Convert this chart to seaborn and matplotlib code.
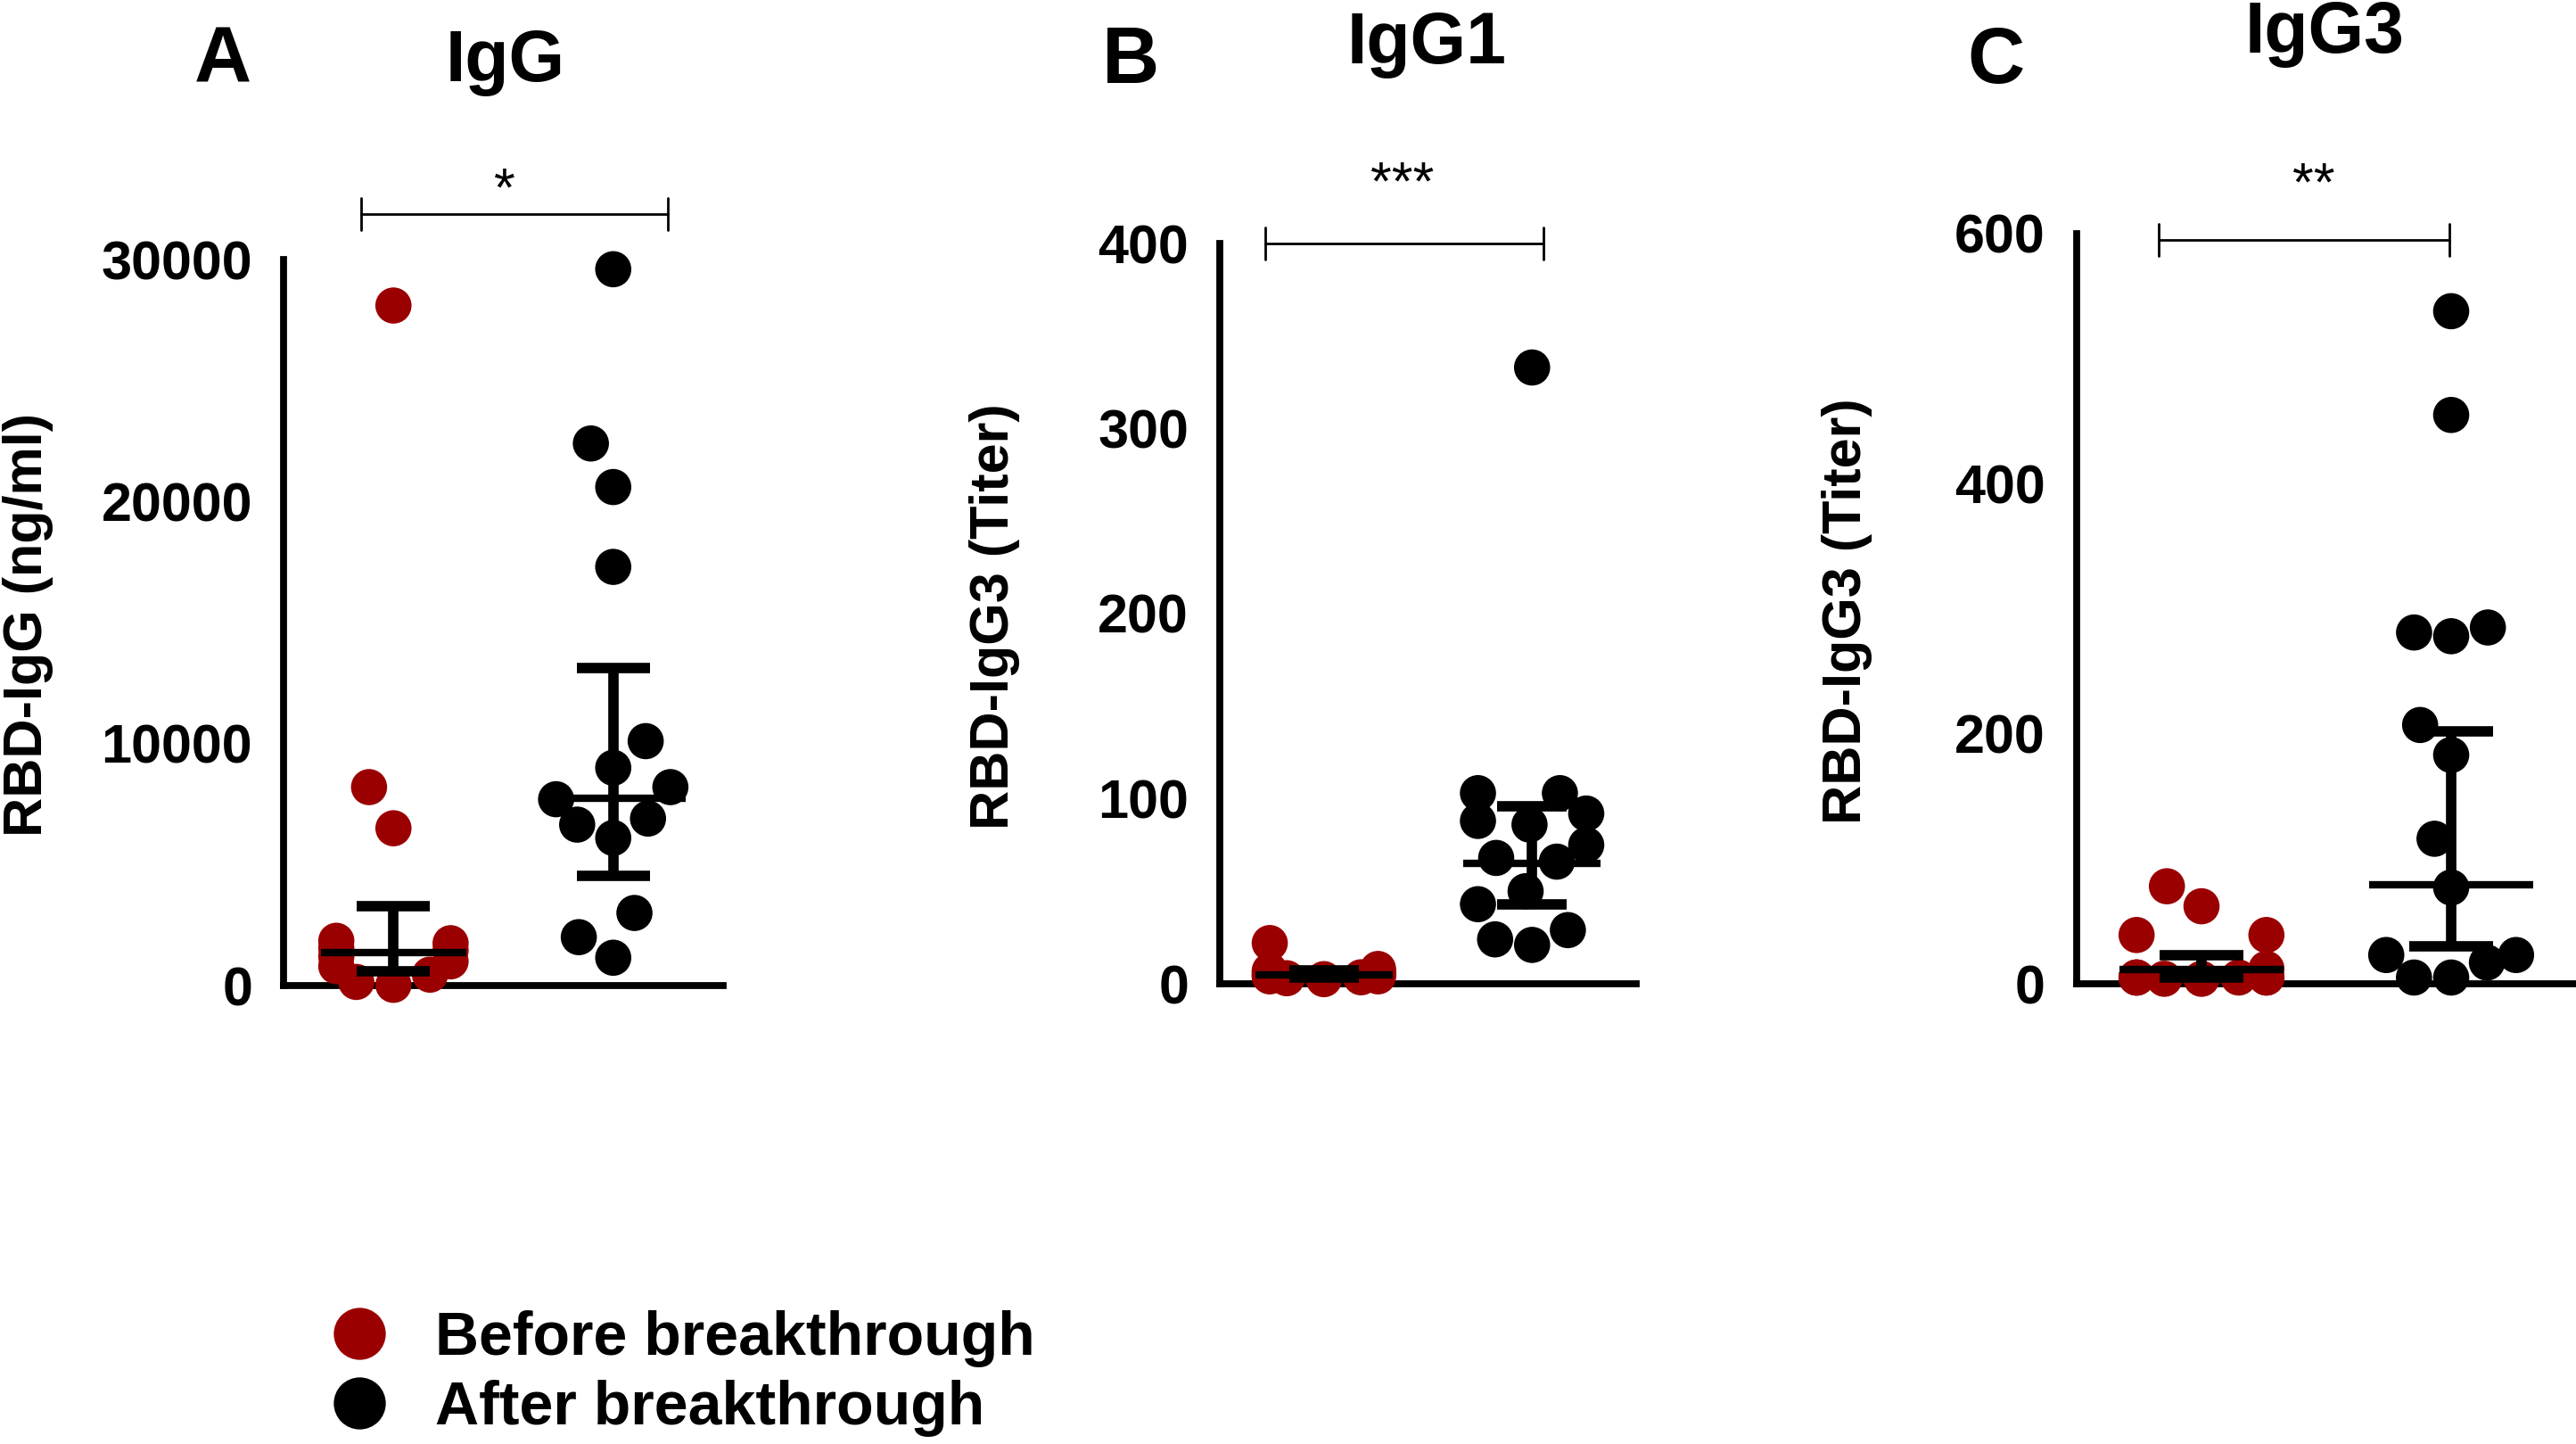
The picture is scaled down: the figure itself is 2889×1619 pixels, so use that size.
import numpy as np
import pandas as pd
import matplotlib
matplotlib.use("Agg")
import matplotlib.pyplot as plt
from matplotlib.lines import Line2D
import seaborn as sns

# ------------------------------------------
# Data
# ------------------------------------------

groups = ["Before breakthrough", "After breakthrough"]
colors = ["#9b0000", "#000000"]

igg_before = [28100, 8200, 6500, 1850, 1750, 1550, 1450, 1200, 1000, 800, 450, 150, 30]
igg_after = [29600, 22400, 20600, 17300, 10100, 9000, 8200, 7700, 6900, 6650, 6100, 3000, 2000, 1150]

igg1_before = [22, 8, 7, 6.5, 6, 5, 5, 4.5, 4, 4, 3.5, 3, 2.5]
igg1_after = [333, 103, 103, 92, 88, 86, 75, 68, 66, 50, 43, 29, 24, 21]

igg3_before = [78, 62, 39, 39, 12, 5, 5, 5, 5, 5, 5, 4, 4]
igg3_after = [538, 455, 285, 281, 278, 207, 183, 116, 77, 23, 23, 17, 5, 5]

# geometric mean with 95% CI  (before, after)
igg_center = [1380, 7730]
igg_low = [580, 4530]
igg_high = [3280, 13130]

igg1_center = [5.0, 65]
igg1_low = [3.5, 43]
igg1_high = [7.1, 96]

igg3_center = [11.5, 79]
igg3_low = [5.3, 30]
igg3_high = [22.7, 202]

panel_letters = ["A", "B", "C"]
panel_titles = ["IgG", "IgG1", "IgG3"]
y_labels = ["RBD-IgG (ng/ml)", "RBD-IgG3 (Titer)", "RBD-IgG3 (Titer)"]
y_ticks = [[0, 10000, 20000, 30000], [0, 100, 200, 300, 400], [0, 200, 400, 600]]
stars = ["*", "***", "**"]

# ------------------------------------------
# Style
# ------------------------------------------

sns.set_style("white")
plt.rcParams["font.family"] = ["Liberation Sans", "DejaVu Sans"]
plt.rcParams["font.weight"] = "bold"
plt.rcParams["text.color"] = "black"
plt.rcParams["axes.labelcolor"] = "black"
plt.rcParams["xtick.color"] = "black"
plt.rcParams["ytick.color"] = "black"

W, H = 2889, 1619
fig = plt.figure(figsize=(W / 200, H / 200), dpi=200)

DOT = 14.6        # drawn marker diameter (pt)
SWARM = 22.0      # diameter used for the swarm layout
SQUEEZE = 0.65    # pull the swarm toward the centre so dots overlap a little


def rect(left, right, top, bottom):
    return [left / W, 1 - bottom / H, (right - left) / W, (bottom - top) / H]


panels = [
    dict(before=igg_before, after=igg_after, center=igg_center, low=igg_low, high=igg_high,
         pos=rect(318, 811, 291, 1105), br=(-0.146, 1.248), br_y=31880, br_h=660),
    dict(before=igg1_before, after=igg1_after, center=igg1_center, low=igg1_low, high=igg1_high,
         pos=rect(1368, 1835, 273, 1103), br=(-0.28, 1.056), br_y=400, br_h=8.7),
    dict(before=igg3_before, after=igg3_after, center=igg3_center, low=igg3_low, high=igg3_high,
         pos=rect(2329, 2889, 262, 1103), br=(-0.17, 0.993), br_y=595, br_h=12.8),
]

axes = []
for i, p in enumerate(panels):
    ax = fig.add_axes(p["pos"])
    axes.append(ax)

    df = pd.DataFrame({
        "group": [groups[0]] * len(p["before"]) + [groups[1]] * len(p["after"]),
        "value": p["before"] + p["after"],
    })

    sns.swarmplot(
        data=df, x="group", y="value", hue="group",
        order=groups, hue_order=groups, palette=colors,
        size=SWARM, linewidth=0, legend=False, warn_thresh=1.0, ax=ax
    )

    # geometric mean + 95% CI
    xs = np.arange(2)
    ax.vlines(xs, p["low"], p["high"], color="black", lw=4.2, zorder=4, clip_on=False)
    ax.hlines(p["low"], xs - 0.167, xs + 0.167, color="black", lw=4.2, zorder=4, clip_on=False)
    ax.hlines(p["high"], xs - 0.167, xs + 0.167, color="black", lw=4.2, zorder=4, clip_on=False)
    ax.hlines(p["center"], xs - 0.33, xs + 0.33, color="black", lw=3.0, zorder=4, clip_on=False)

    ax.set_xlim(-0.5, 1.5)
    ax.set_ylim(y_ticks[i][0], y_ticks[i][-1])
    ax.set_yticks(y_ticks[i])
    ax.set_xticks([0, 1])
    ax.set_xticklabels([])
    ax.set_xlabel("")
    ax.set_ylabel("")

    sns.despine(ax=ax)
    for side in ["left", "bottom"]:
        ax.spines[side].set_linewidth(2.8)
        ax.spines[side].set_color("black")
    ax.tick_params(axis="both", length=8.6, width=3.0, color="black")
    ax.tick_params(axis="y", labelsize=22, pad=4)

    # significance bracket
    x0, x1 = p["br"]
    yb, hb = p["br_y"], p["br_h"]
    ax.plot([x0, x1], [yb, yb], color="black", lw=1.0, clip_on=False)
    ax.plot([x0, x0], [yb - hb, yb + hb], color="black", lw=1.0, clip_on=False)
    ax.plot([x1, x1], [yb - hb, yb + hb], color="black", lw=1.0, clip_on=False)

# ------------------------------------------
# Titles, stars, axis labels
# ------------------------------------------

letter_pos = [(250, 70), (1268, 70), (2238, 70)]
title_pos = [(567, 70), (1600, 50), (2607, 38)]
ylabel_pos = [(32, 700), (1115, 691), (2071, 685)]
star_pos = [(566, 215), (1573, 208), (2595, 209)]

for i in range(3):
    fig.text(letter_pos[i][0] / W, 1 - letter_pos[i][1] / H, panel_letters[i],
             fontsize=32, ha="center", va="center")
    fig.text(title_pos[i][0] / W, 1 - title_pos[i][1] / H, panel_titles[i],
             fontsize=29, ha="center", va="center")
    fig.text(ylabel_pos[i][0] / W, 1 - ylabel_pos[i][1] / H, y_labels[i],
             fontsize=22, rotation=90, ha="center", va="center")
    fig.text(star_pos[i][0] / W, 1 - star_pos[i][1] / H, stars[i],
             fontsize=22, fontweight="normal", ha="center", va="center")

# ------------------------------------------
# Legend
# ------------------------------------------

handles = [
    Line2D([], [], ls="", marker="o", markersize=21, color=c, markeredgewidth=0)
    for c in colors
]
fig.legend(
    handles, groups,
    loc="center left", bbox_to_anchor=(369 / W, 1 - 1540 / H),
    frameon=False, fontsize=24.5, handlelength=1.0, handletextpad=0.75,
    labelspacing=0.2, borderpad=0, borderaxespad=0
)

# lay the swarm out once, then freeze it, squeeze it and shrink the dots
fig.canvas.draw()
for ax in axes:
    for coll in ax.collections[:2]:
        if "draw" in coll.__dict__:
            del coll.draw
        offs = np.asarray(coll.get_offsets(), dtype=float).copy()
        c = np.round(offs[:, 0].mean())
        offs[:, 0] = c + (offs[:, 0] - c) * SQUEEZE
        coll.set_offsets(offs)
        coll.set_sizes([DOT ** 2])
        coll.set_clip_on(False)
        coll.set_zorder(3)

fig.savefig("out.png", dpi=200)
